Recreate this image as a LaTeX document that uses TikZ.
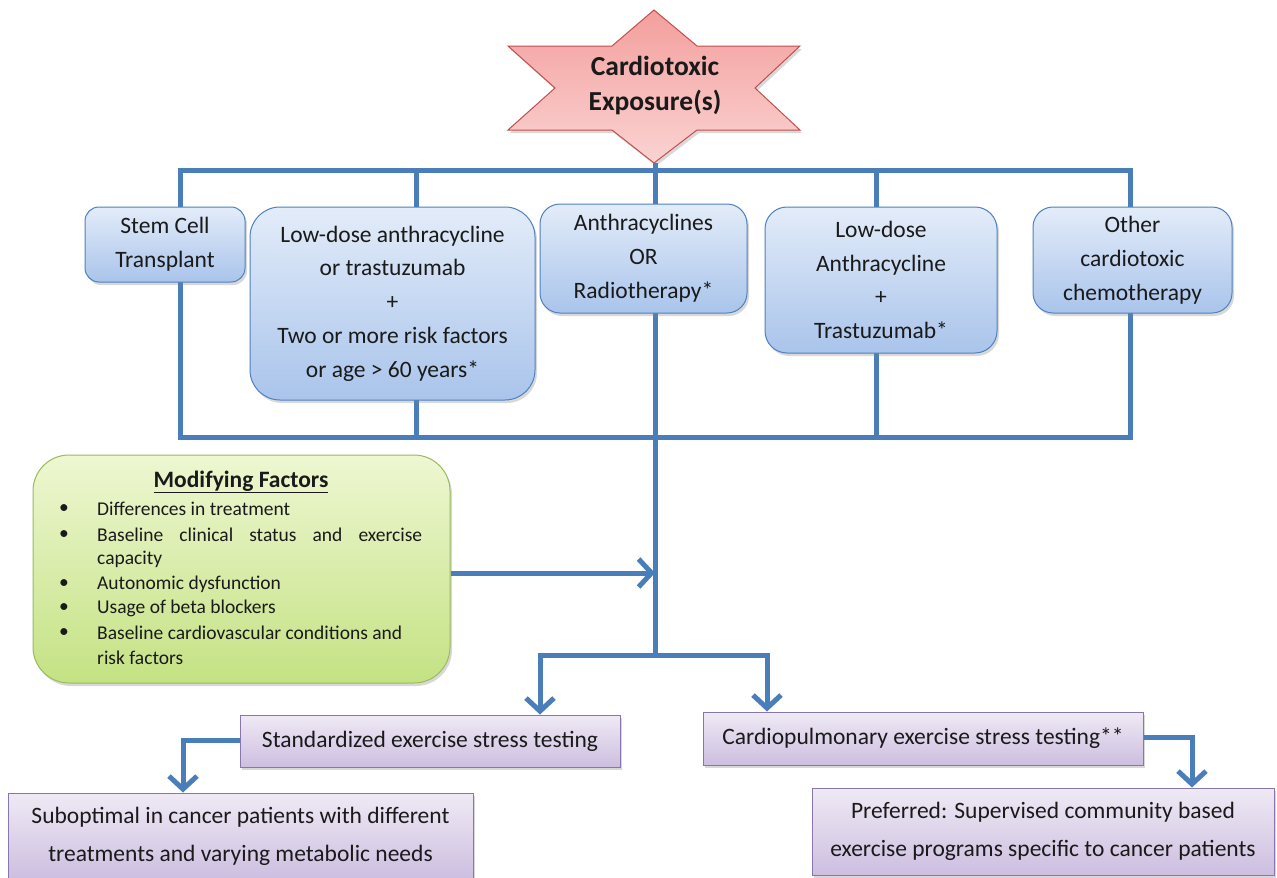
\documentclass[tikz,border=0pt]{standalone}
\usepackage{fontspec}
\setmainfont{Carlito}
\usetikzlibrary{arrows.meta,shadows}
\definecolor{linblue}{HTML}{4A7EBB}
\definecolor{boxtop}{HTML}{E3ECF9}
\definecolor{boxbot}{HTML}{A9C4EB}
\definecolor{boxline}{HTML}{4F81BD}
\definecolor{purtop}{HTML}{EFEAF5}
\definecolor{purbot}{HTML}{CDBEE0}
\definecolor{purline}{HTML}{8A76AE}
\definecolor{grtop}{HTML}{EEF7D2}
\definecolor{grbot}{HTML}{C4E283}
\definecolor{grline}{HTML}{9BBB59}
\definecolor{startop}{HTML}{F39F9D}
\definecolor{starbot}{HTML}{FAD3D2}
\definecolor{starline}{HTML}{C0504D}
\definecolor{txt}{HTML}{1A1A1A}
\tikzset{
  bluebox/.style={draw=boxline, line width=1pt, top color=boxtop, bottom color=boxbot,
    text=txt, align=center, inner sep=0pt,
    drop shadow={shadow xshift=2pt, shadow yshift=-3pt, opacity=0.3},
    font=\fontsize{23.5}{33.8}\selectfont},
  purbox/.style={draw=purline, line width=1pt, top color=purtop, bottom color=purbot,
    text=txt, align=center, inner sep=0pt,
    drop shadow={shadow xshift=2pt, shadow yshift=-3pt, opacity=0.3},
    font=\fontsize{23.5}{38}\selectfont},
  bus/.style={draw=linblue, line width=5pt},
  arr/.style={draw=linblue, line width=5pt, line join=miter, -{Straight Barb[length=13pt,width=28pt]}},
  mtext/.style={anchor=west, inner sep=0pt, text=txt, font=\fontsize{19.5}{22}\selectfont},
  bul/.style={inner sep=0pt, text=txt, font=\fontsize{19.5}{22}\selectfont},
}
\begin{document}
\begin{tikzpicture}[x=1pt,y=-1pt]
\useasboundingbox (0,0) rectangle (1277,878);
\fill[white] (0,0) rectangle (1277,878);

% star
\draw[draw=starline, line width=1pt, top color=startop, bottom color=starbot,
  drop shadow={shadow xshift=2pt, shadow yshift=-3pt, opacity=0.3}]
  (654,10) -- (612,46) -- (508,46) -- (555,88) -- (508,130) -- (612,130) -- (654,163)
  -- (697,130) -- (800,130) -- (755,88) -- (800,46) -- (697,46) -- cycle;
\node[align=center, text=txt, font=\bfseries\fontsize{27.5}{35}\selectfont] (star) at (655,86) {Cardiotoxic\\Exposure(s)};
\coordinate (startip) at (655,163);

% bus coordinates
\coordinate (t1) at (180,170);
\coordinate (t2) at (416,170);
\coordinate (t3) at (655,170);
\coordinate (t4) at (876,170);
\coordinate (t5) at (1130,170);
\coordinate (b1) at (180,437);
\coordinate (b2) at (416,437);
\coordinate (b3) at (655,437);
\coordinate (b4) at (876,437);
\coordinate (b5) at (1130,437);

% vertical lines behind boxes
\draw[bus] (t1) -- (b1);
\draw[bus] (t2) -- (b2);
\draw[bus] (t3) -- (b3);
\draw[bus] (t4) -- (b4);
\draw[bus] (t5) -- (b5);
\draw[bus] (startip) -- (t3);
\draw[bus] ([xshift=-2.5pt]t1) -- ([xshift=2.5pt]t5);
\draw[bus] ([xshift=-2.5pt]b1) -- ([xshift=2.5pt]b5);

% top boxes
\node[bluebox, rounded corners=14pt, minimum width=160pt, minimum height=75pt] (stem) at (165,244.5) {Stem Cell\\Transplant};
\node[bluebox, rounded corners=30pt, minimum width=285pt, minimum height=193pt] (lowdose) at (392.5,303.5)
  {Low-dose anthracycline\\or trastuzumab\\+\\Two or more risk factors\\or age > 60 years*};
\node[bluebox, rounded corners=20pt, minimum width=207pt, minimum height=109pt] (anth) at (643.5,258.5)
  {Anthracyclines\\OR\\Radiotherapy*};
\node[bluebox, rounded corners=22pt, minimum width=232pt, minimum height=146pt] (lowtras) at (881,280)
  {Low-dose\\Anthracycline\\+\\Trastuzumab*};
\node[bluebox, rounded corners=20pt, minimum width=199pt, minimum height=106pt] (other) at (1132.5,260)
  {Other\\cardiotoxic\\chemotherapy};

% modifying factors
\node[draw=grline, line width=1pt, top color=grtop, bottom color=grbot, rounded corners=36pt,
  minimum width=417pt, minimum height=228pt, inner sep=0pt,
  drop shadow={shadow xshift=2pt, shadow yshift=-3pt, opacity=0.3}] (mod) at (241.5,569) {};
\node[text=txt, inner sep=1pt, font=\bfseries\fontsize{23.5}{26}\selectfont] (modt) at (241,482) {\underline{Modifying Factors}};
\node[bul] (u1) at (64,509) {\textbullet};
\node[bul] (u2) at (64,535) {\textbullet};
\node[bul] (u3) at (64,584) {\textbullet};
\node[bul] (u4) at (64,608) {\textbullet};
\node[bul] (u5) at (64,633) {\textbullet};
\node[mtext] (m1) at (97,509) {Differences in treatment};
\node[mtext] (m2) at (97,535) {\makebox[325pt][s]{Baseline clinical status and exercise}};
\node[mtext] (m2b) at (97,559) {capacity};
\node[mtext] (m3) at (97,584) {Autonomic dysfunction};
\node[mtext] (m4) at (97,608) {Usage of beta blockers};
\node[mtext] (m5) at (97,633) {Baseline cardiovascular conditions and};
\node[mtext] (m5b) at (97,658) {risk factors};

% flow below
\coordinate (split) at (655,655);
\coordinate (lsplit) at (540,655);
\coordinate (rsplit) at (767,655);
\coordinate (modin) at (655,573);
\draw[bus] (b3) -- (split);
\draw[arr] (mod.east |- modin) -- (modin);
\draw[bus] ([xshift=2.5pt]rsplit) -- ([xshift=-2.5pt]lsplit);

% bottom boxes
\node[purbox, minimum width=380pt, minimum height=52pt] (std) at (430,741) {Standardized exercise stress testing};
\node[purbox, minimum width=440pt, minimum height=53pt] (cpx) at (923,738.5) {Cardiopulmonary exercise stress testing**};
\node[purbox, minimum width=465pt, minimum height=86pt] (sub) at (240.5,836)
  {Suboptimal in cancer patients with different\\treatments and varying metabolic needs};
\node[purbox, minimum width=462pt, minimum height=87pt] (pref) at (1043,831.5)
  {Preferred: Supervised community based\\exercise programs specific to cancer patients};

\draw[arr] ([yshift=-2.5pt]lsplit) -- (lsplit |- std.north);
\draw[arr] ([yshift=-2.5pt]rsplit) -- (rsplit |- cpx.north);
\coordinate (lc) at (183,740);
\coordinate (rc) at (1192,737);
\draw[arr] (std.west |- lc) -- (lc) -- (lc |- sub.north);
\draw[arr] (cpx.east |- rc) -- (rc) -- (rc |- pref.north);
\end{tikzpicture}
\end{document}
